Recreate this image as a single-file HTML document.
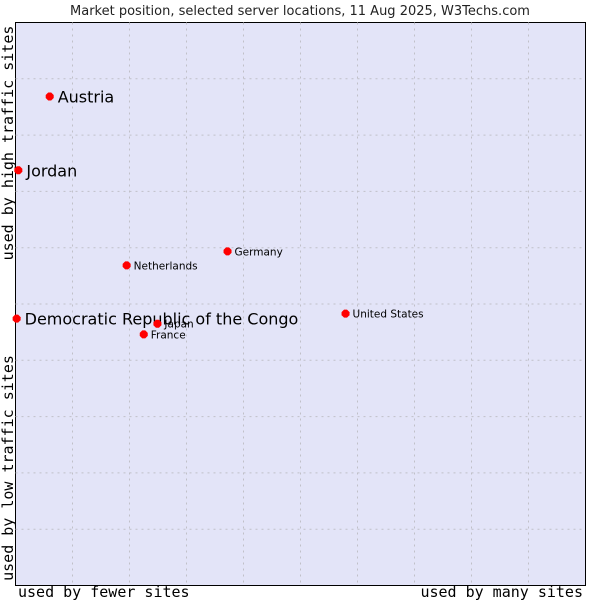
<!DOCTYPE html>
<html><head><meta charset="utf-8"><style>
html,body{margin:0;padding:0;background:#fff;width:600px;height:600px;overflow:hidden}
svg{display:block}
</style></head><body>
<svg id="chart" width="600" height="600">
<text x="300" y="15" text-anchor="middle" font-family="DejaVu Sans, sans-serif" font-size="13" fill="#222">Market position, selected server locations, 11 Aug 2025, W3Techs.com</text>
<rect x="15.5" y="22.5" width="570" height="563" fill="#e3e4f8" stroke="#000" stroke-width="1"/>
<g id="grid"></g>
<text transform="translate(13,143) rotate(-90)" text-anchor="middle" font-family="DejaVu Sans Mono, Liberation Mono, monospace" font-size="15" fill="#000">used by high traffic sites</text>
<text transform="translate(13,468) rotate(-90)" text-anchor="middle" font-family="DejaVu Sans Mono, Liberation Mono, monospace" font-size="15" fill="#000">used by low traffic sites</text>
<text x="18" y="597" font-family="DejaVu Sans Mono, Liberation Mono, monospace" font-size="15" fill="#000">used by fewer sites</text>
<text x="583" y="597" text-anchor="end" font-family="DejaVu Sans Mono, Liberation Mono, monospace" font-size="15" fill="#000">used by many sites</text>
<g id="points"></g>
</svg>
<script>
const countries = ["Austria","Jordan","Netherlands","Germany","Democratic Republic of the Congo","Japan","France","United States"];
const xValues = [6.0,0.5,19.5,37.2,0.2,24.9,22.5,57.9];
const yValues = [86.85,73.75,56.85,59.35,47.4,46.5,44.6,48.3];
const bigLabel = [true,true,false,false,true,false,false,false];
const NS="http://www.w3.org/2000/svg";
const L=15.5,T=22.5,W=570,H=563;
function xs(v){return L+v/100*W;}
function ys(v){return T+H-v/100*H;}
const grid=document.getElementById('grid');
for(let i=1;i<10;i++){
  const x=L+i*57, y=T+H-i*56.3;
  const a=document.createElementNS(NS,'line');
  
  
  a.setAttribute('x1',x);a.setAttribute('x2',x);a.setAttribute('y1',T);a.setAttribute('y2',T+H);
  a.setAttribute('stroke','#c0c0c8');a.setAttribute('stroke-dasharray','2,4');
  grid.appendChild(a);
  const b=document.createElementNS(NS,'line');
  
  
  b.setAttribute('y1',y);b.setAttribute('y2',y);b.setAttribute('x1',L);b.setAttribute('x2',L+W);
  b.setAttribute('stroke','#c0c0c8');b.setAttribute('stroke-dasharray','2,4');
  grid.appendChild(b);
}
const pts=document.getElementById('points');
countries.forEach((c,i)=>{
  const x=xs(xValues[i]),y=ys(yValues[i]);
  const p=document.createElementNS(NS,'polygon');
  
  
  p.setAttribute('points',`${x-4},${y-1.5} ${x-1.5},${y-4} ${x+1.5},${y-4} ${x+4},${y-1.5} ${x+4},${y+1.5} ${x+1.5},${y+4} ${x-1.5},${y+4} ${x-4},${y+1.5}`);
  p.setAttribute('fill','#ff0000');
  pts.appendChild(p);
  const t=document.createElementNS(NS,'text');
  
  
  t.setAttribute('x',x+(bigLabel[i]?8:7));
  t.setAttribute('y',y+(bigLabel[i]?6:4));
  t.setAttribute('font-family','DejaVu Sans, sans-serif');
  t.setAttribute('font-size',bigLabel[i]?'16':'10.5');
  t.setAttribute('fill','#000');
  t.textContent=c;
  pts.appendChild(t);
});
</script>
</body></html>
